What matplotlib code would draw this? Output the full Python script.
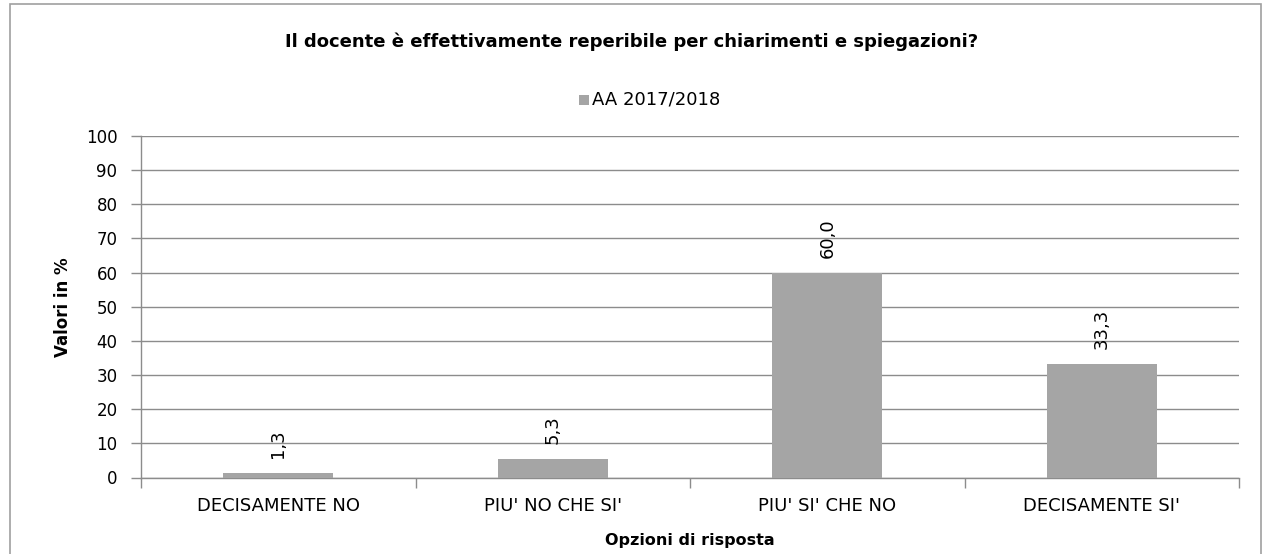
import matplotlib
matplotlib.use("Agg")
import matplotlib.pyplot as plt
from matplotlib.patches import Rectangle

# data
categories = ["DECISAMENTE NO", "PIU' NO CHE SI'", "PIU' SI' CHE NO", "DECISAMENTE SI'"]
values = [1.3, 5.3, 60.0, 33.3]
series_name = "AA 2017/2018"
title = "Il docente è effettivamente reperibile per chiarimenti e spiegazioni?"
yticks = list(range(0, 101, 10))

W, H = 1264, 554
BAR = "#a5a5a5"
GRID = "#8c8c8c"

plt.rcParams['font.family'] = ['DejaVu Sans']

fig = plt.figure(figsize=(W / 100, H / 100), dpi=100)
fig.patch.set_facecolor("white")

# outer chart border (bottom edge runs off the image)
fig.patches.append(Rectangle((10 / W, -0.05), (1261 - 10) / W, 1.05 - 4 / H,
                             transform=fig.transFigure, fill=False,
                             edgecolor="#a0a0a0", linewidth=1.2))

left, right = 141, 1239
top, bottom = 136, 477.5
ax = fig.add_axes([left / W, (H - bottom) / H, (right - left) / W, (bottom - top) / H])

x = list(range(len(categories)))
bars = ax.bar(x, values, width=0.40, color=BAR, zorder=3, label=series_name)

for xi, v in zip(x, values):
    ax.annotate(f"{v:.1f}".replace(".", ","), (xi, v), xytext=(0, 15),
                textcoords="offset pixels", rotation=90, ha="center", va="bottom",
                fontsize=13, color="#000000")

ax.set_xlim(-0.5, len(categories) - 0.5)
ax.set_ylim(0, 100)
ax.set_yticks(yticks)
ax.set_yticklabels([str(t) for t in yticks], fontsize=12)
ax.yaxis.grid(True, color=GRID, linewidth=1.0, zorder=0)
ax.set_axisbelow(True)

ax.set_xticks(x)
ax.set_xticklabels(categories, fontsize=13)
ax.set_xticks([i - 0.5 for i in range(len(categories) + 1)], minor=True)
ax.tick_params(axis="x", which="major", length=0, pad=14)
ax.tick_params(axis="x", which="minor", length=7, color=GRID, width=1)
ax.tick_params(axis="y", length=7, color=GRID, width=1, pad=10)

for s in ["top", "right"]:
    ax.spines[s].set_visible(False)
for s in ["left", "bottom"]:
    ax.spines[s].set_color(GRID)
    ax.spines[s].set_linewidth(1.0)

ax.set_ylabel("Valori in %", fontsize=12, fontweight="bold", labelpad=10)
ax.set_xlabel("Opzioni di risposta", fontsize=11.5, fontweight="bold", labelpad=13)

fig.text(632 / W, 1 - 42 / H, title, ha="center", va="center",
         fontsize=13, fontweight="bold")

# legend: gray square plus text
fig.patches.append(Rectangle((579 / W, 1 - 105 / H), 10 / W, 10 / H,
                             transform=fig.transFigure, facecolor=BAR, edgecolor="none"))
fig.text(592 / W, 1 - 100 / H, series_name, ha="left", va="center", fontsize=13)

fig.savefig("out.png", dpi=100)
